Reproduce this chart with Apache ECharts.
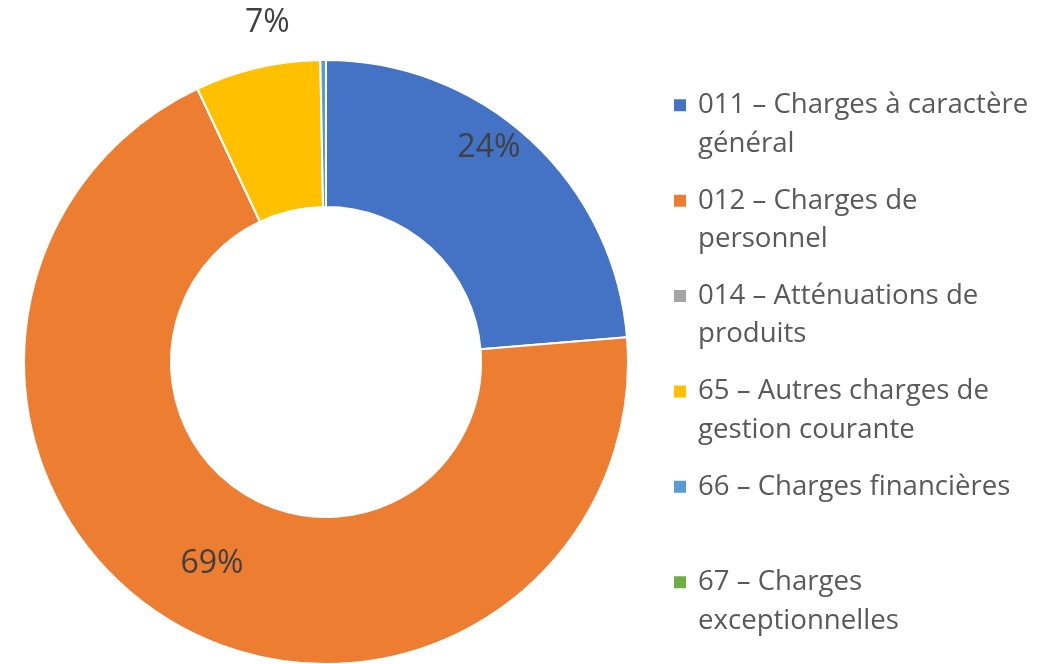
<!DOCTYPE html>
<html>
<head>
<meta charset="utf-8">
<script src="https://cdn.jsdelivr.net/npm/echarts@6/dist/echarts.min.js"></script>
<style>
  html, body { margin: 0; padding: 0; background: #fff; }
  #chart { width: 1045px; height: 664px; }
</style>
</head>
<body>
<div id="chart"></div>
<script>
var myChart = echarts.init(document.getElementById('chart'));

// chapitres budgétaires
var categories = [
    '011 – Charges à caractère\ngénéral',
    '012 – Charges de\npersonnel',
    '014 – Atténuations de\nproduits',
    '65 – Autres charges de\ngestion courante',
    '66 – Charges financières\n ',
    '67 – Charges\nexceptionnelles'
];
// parts en %
var values = [23.7, 69.3, 0, 6.7, 0.3, 0];
var colors = ['#4472C4', '#ED7D31', '#A5A5A5', '#FFC000', '#5B9BD5', '#70AD47'];

// décalage des étiquettes façon Excel
var labelOffsets = [[6, -44], [2, 2], [0, 0], [-6, -114], [0, 0], [0, 0]];

var seriesData = categories.map(function (name, i) {
    return {
        name: name,
        value: values[i],
        itemStyle: { color: colors[i] },
        label: { offset: labelOffsets[i] }
    };
});

myChart.setOption({
    animation: false,
    legend: {
        orient: 'vertical',
        left: 672,
        top: 85,
        padding: 0,
        itemWidth: 20,
        itemHeight: 77,
        itemGap: 16.4,
        // carré aligné sur la première ligne
        icon: 'path://M0,0M20,77M0,12.25H14V26.25H0Z',
        selectedMode: false,
        textStyle: {
            fontFamily: 'Open Sans',
            fontSize: 27.6,
            lineHeight: 38.5,
            color: '#595959'
        },
        data: categories
    },
    series: [
        {
            type: 'pie',
            center: [326, 362],
            radius: [155, 302],
            startAngle: 90,
            clockwise: true,
            avoidLabelOverlap: false,
            itemStyle: {
                borderColor: '#ffffff',
                borderWidth: 2
            },
            label: {
                position: 'inside',
                fontFamily: 'Open Sans',
                fontSize: 32,
                color: '#404040',
                formatter: function (p) {
                    return p.value >= 1 ? Math.round(p.value) + '%' : '';
                }
            },
            labelLine: { show: false },
            emphasis: { disabled: true },
            data: seriesData
        }
    ]
});
</script>
</body>
</html>
